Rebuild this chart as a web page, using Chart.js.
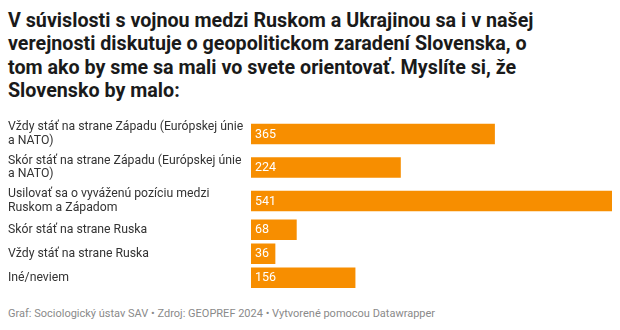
<!DOCTYPE html>
<html>
<head>
<meta charset="utf-8">
<script src="https://cdn.jsdelivr.net/npm/chart.js@4"></script>
<style>
  html, body { margin: 0; padding: 0; background: #fff; }
  body { width: 620px; height: 330px; position: relative; overflow: hidden; font-family: Roboto, sans-serif; }
  #title { position: absolute; left: 8px; top: 9px; font-size: 19.7px; font-weight: 700; line-height: 23.3px; color: #1a1a1a; }
  #wrap { position: absolute; left: 0; top: 112px; width: 620px; height: 183px; }
  #footer { position: absolute; left: 8px; top: 307px; font-size: 11px; color: #8a8a8a; }
</style>
</head>
<body>
<div id="title">V súvislosti s vojnou medzi Ruskom a Ukrajinou sa i v našej<br>verejnosti diskutuje o geopolitickom zaradení Slovenska, o<br>tom ako by sme sa mali vo svete orientovať. Myslíte si, že<br>Slovensko by malo:</div>
<div id="wrap"><canvas id="chart"></canvas></div>
<div id="footer">Graf: Sociologický ústav SAV • Zdroj: GEOPREF 2024 • Vytvorené pomocou Datawrapper</div>
<script>
const categories = [
  ['Vždy stáť na strane Západu (Európskej únie', 'a NATO)'],
  ['Skór stáť na strane Západu (Európskej únie', 'a NATO)'],
  ['Usilovať sa o vyváženú pozíciu medzi', 'Ruskom a Západom'],
  ['Skór stáť na strane Ruska'],
  ['Vždy stáť na strane Ruska'],
  ['Iné/neviem']
];
const values = [365, 224, 541, 68, 36, 156];

// row height depends on how many lines the label has
const rowHeight = lines => lines > 1 ? 33.5 : 24;
const centers = [];
let acc = 0;
categories.forEach(c => {
  const h = rowHeight(c.length);
  centers.push(acc + h / 2);
  acc += h;
});
const total = acc;

const rowLabels = {
  id: 'rowLabels',
  afterDatasetsDraw(chart) {
    const ctx = chart.ctx;
    const y = chart.scales.y;
    const meta = chart.getDatasetMeta(0);
    ctx.save();
    ctx.textBaseline = 'middle';
    ctx.textAlign = 'left';
    // category labels on the left
    ctx.fillStyle = '#333333';
    ctx.font = '12.25px Roboto';
    const lh = 13.7;
    categories.forEach((lines, i) => {
      const cy = y.getPixelForValue(centers[i]);
      lines.forEach((t, k) => {
        ctx.fillText(t, 8, cy + (k - (lines.length - 1) / 2) * lh);
      });
    });
    // values inside the bars
    ctx.fillStyle = '#ffffff';
    ctx.font = '12.5px Roboto';
    meta.data.forEach((bar, i) => {
      ctx.fillText(values[i], bar.base + 4, bar.y + 0.5);
    });
    ctx.restore();
  }
};

new Chart(document.getElementById('chart'), {
  type: 'bar',
  data: {
    datasets: [{
      data: values.map((v, i) => ({ x: v, y: centers[i] })),
      backgroundColor: '#f78e00',
      borderWidth: 0,
      barThickness: 20
    }]
  },
  options: {
    indexAxis: 'y',
    responsive: true,
    maintainAspectRatio: false,
    animation: false,
    layout: { padding: { top: 5.25, bottom: 5.25, left: 251, right: 8 } },
    plugins: { legend: { display: false }, tooltip: { enabled: false } },
    scales: {
      x: { type: 'linear', min: 0, max: 541, display: false },
      y: { type: 'linear', min: 0, max: total, reverse: true, offset: false, display: false }
    }
  },
  plugins: [rowLabels]
});
</script>
</body>
</html>
